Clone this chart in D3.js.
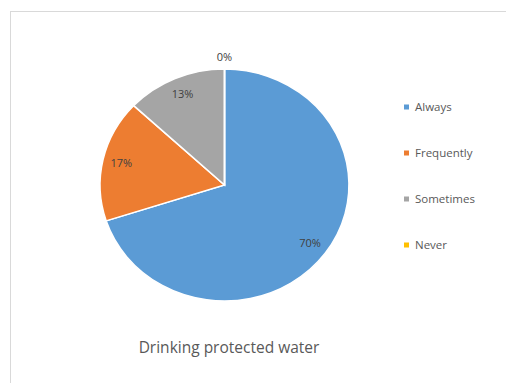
<html>
<head>
<script src="https://d3js.org/d3.v7.min.js"></script>
<style>
  body { margin: 0; background: #fff; }
  text { font-family: "Open Sans", Lato, sans-serif; }
</style>
</head>
<body>
<script>
var categories = ["Always", "Frequently", "Sometimes", "Never"];
var values = [70, 17, 13, 0];
var labels = ["70%", "17%", "13%", "0%"];
var colors = ["#5b9bd5", "#ed7d31", "#a5a5a5", "#ffc000"];
var title = "Drinking protected water";

var width = 506, height = 383;
var cx = 224.5, cy = 185, ry = 116, rx = 124.5;

var svg = d3.select("body").append("svg")
    .attr("width", width)
    .attr("height", height);

// chart frame (only top and left edges show in the crop)
svg.append("rect")
    .attr("x", 10.5).attr("y", 11.5)
    .attr("width", 505).attr("height", 400)
    .attr("fill", "none")
    .attr("stroke", "#d9d9d9");

var pie = d3.pie().sort(null).value(d => d);
var arcs = pie(values);
var arc = d3.arc().innerRadius(0).outerRadius(ry);

var g = svg.append("g")
    .attr("transform", "translate(" + cx + "," + cy + ") scale(" + (rx / ry) + ",1)");

g.selectAll("path")
    .data(arcs)
    .enter()
    .append("path")
    .attr("d", arc)
    .attr("fill", (d, i) => colors[i])
    .attr("stroke", "#fff")
    .attr("stroke-width", 1.5);

// data labels
var labelG = svg.append("g").attr("transform", "translate(" + cx + "," + cy + ")");
labelG.selectAll("text")
    .data(arcs)
    .enter()
    .append("text")
    .attr("x", d => {
        var a = (d.startAngle + d.endAngle) / 2;
        var k = d.data === 0 ? 1.1 : 0.85;
        return Math.sin(a) * rx * k;
    })
    .attr("y", d => {
        var a = (d.startAngle + d.endAngle) / 2;
        var k = d.data === 0 ? 1.1 : 0.85;
        return -Math.cos(a) * ry * k;
    })
    .attr("dy", "0.35em")
    .attr("text-anchor", "middle")
    .attr("font-size", 11)
    .attr("fill", "#404040")
    .text((d, i) => labels[i]);

// legend
var legend = svg.append("g").attr("transform", "translate(404,107)");
var item = legend.selectAll("g")
    .data(categories)
    .enter()
    .append("g")
    .attr("transform", (d, i) => "translate(0," + i * 46 + ")");
item.append("rect")
    .attr("x", 0).attr("y", -2.5)
    .attr("width", 5).attr("height", 5)
    .attr("fill", (d, i) => colors[i]);
item.append("text")
    .attr("x", 11)
    .attr("dy", "0.35em")
    .attr("font-size", 11.5)
    .attr("fill", "#595959")
    .text(d => d);

// title below the pie
svg.append("text")
    .attr("x", 229)
    .attr("y", 353)
    .attr("text-anchor", "middle")
    .attr("font-size", 15.5)
    .attr("fill", "#595959")
    .text(title);
</script>
</body>
</html>
